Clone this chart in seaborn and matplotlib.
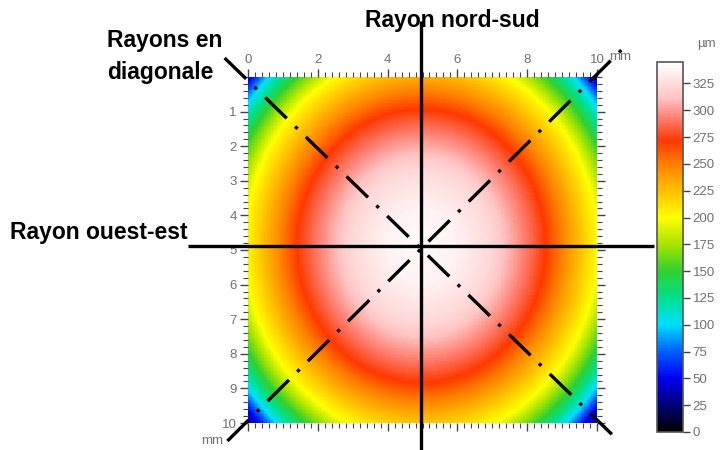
import numpy as np
import pandas as pd
import matplotlib
matplotlib.use("Agg")
import matplotlib.pyplot as plt
import seaborn as sns
from matplotlib.colors import LinearSegmentedColormap
from matplotlib.ticker import MultipleLocator, FixedLocator

# ---- data ----
# radial height profile of the dome (distance from centre in mm -> height in µm)
profile_radius_mm = [0.0, 1.0, 2.0, 2.5, 3.0, 3.55, 4.1, 4.6, 5.05, 5.67, 6.2, 6.55, 7.2]
profile_height_um = [342, 337, 322, 307, 291, 272, 246, 222, 200, 150, 100, 50, 20]
centre_mm = [4.97, 4.88]        # x, y of the dome top
y_stretch = 0.90                # the dome is a little wider north-south
field_mm = [0, 10]
cbar_ticks = [0, 25, 50, 75, 100, 125, 150, 175, 200, 225, 250, 275, 300, 325]
top_tick_labels = [0, 2, 4, 6, 8, 10]
left_tick_labels = [1, 2, 3, 4, 5, 6, 7, 8, 9, 10]
vmax_um = 345

# colour scale stops (value in µm, colour)
cmap_stops = [(0, "#000000"), (25, "#00007a"), (50, "#0000f0"), (75, "#0060ff"),
              (100, "#00e0ff"), (125, "#00e08c"), (150, "#30d030"), (175, "#a8e400"),
              (200, "#ffff00"), (225, "#ffc000"), (250, "#ff8000"), (272, "#ff3800"),
              (292, "#ff7a6a"), (312, "#ffc4c4"), (345, "#ffffff")]

# ---- build grid ----
N = 240
coords = (np.arange(N) + 0.5) * (field_mm[1] - field_mm[0]) / N
X, Y = np.meshgrid(coords, coords)
R = np.sqrt((X - centre_mm[0]) ** 2 + ((Y - centre_mm[1]) * y_stretch) ** 2)
Z = np.interp(R, profile_radius_mm, profile_height_um)
df = pd.DataFrame(Z)

cmap = LinearSegmentedColormap.from_list(
    "surf", [(v / vmax_um, c) for v, c in cmap_stops])

W, H = 723, 450
fig = plt.figure(figsize=(W / 100, H / 100), dpi=100)
ax = fig.add_axes([248 / W, 1 - 423 / H, (597 - 248) / W, (423 - 77) / H])
cax = fig.add_axes([657 / W, 1 - 432 / H, (683 - 657) / W, (432 - 62) / H])

sns.heatmap(df, ax=ax, cmap=cmap, vmin=0, vmax=vmax_um, cbar_ax=cax,
            xticklabels=False, yticklabels=False,
            cbar_kws={"ticks": cbar_ticks})
cbar = ax.collections[0].colorbar

label_color = "#707070"
label_size = 9.5
scale = N / (field_mm[1] - field_mm[0])
tick_kw = dict(colors="#444444", labelcolor=label_color, labelsize=label_size)
ax.xaxis.tick_top()
ax.xaxis.set_major_locator(FixedLocator([v * scale for v in top_tick_labels]))
ax.set_xticklabels([str(v) for v in top_tick_labels], fontfamily="Liberation Sans")
ax.xaxis.set_minor_locator(MultipleLocator(0.2 * scale))
ax.yaxis.set_major_locator(FixedLocator([v * scale for v in left_tick_labels]))
ax.set_yticklabels([str(v) for v in left_tick_labels], fontfamily="Liberation Sans")
ax.yaxis.set_minor_locator(MultipleLocator(0.2 * scale))
ax.tick_params(axis="both", which="major", length=6, width=1, direction="out",
               top=True, bottom=True, left=True, right=True, pad=2, **tick_kw)
ax.tick_params(axis="both", which="minor", length=3.5, width=0.8, direction="out",
               top=True, bottom=True, left=True, right=True, colors="#444444")
ax.tick_params(axis="x", labeltop=True, labelbottom=False)
ax.tick_params(axis="y", labelleft=True, labelright=False, rotation=0)
ax.set_xlabel("")
ax.set_ylabel("")
for s in ax.spines.values():
    s.set_visible(False)

cax.tick_params(length=5, width=1, colors="#444444", labelcolor=label_color,
                labelsize=label_size, pad=2)
for lab in cax.get_yticklabels():
    lab.set_fontfamily("Liberation Sans")
cbar.outline.set_edgecolor("#555555")
cbar.outline.set_linewidth(1.2)
fig.text(706 / W, 1 - 44 / H, "µm", ha="center", va="center", fontsize=label_size,
         color=label_color, family="Liberation Sans")

# "mm" unit labels
fig.text(620 / W, 1 - 57 / H, "mm", ha="center", va="center", fontsize=label_size,
         color=label_color, family="Liberation Sans")
fig.text(212 / W, 1 - 441 / H, "mm", ha="center", va="center", fontsize=label_size,
         color=label_color, family="Liberation Sans")

# ---- overlay radii (in mm, all through the dome centre) ----
def mm(dx, dy):
    return (centre_mm[0] + dx) * scale, (centre_mm[1] + dy) * scale

line_kw = dict(color="black", lw=2.4, clip_on=False, solid_capstyle="butt")
ax.plot(*zip(mm(0, -6.5), mm(0, 5.95)), **line_kw)
ax.plot(*zip(mm(-6.7, 0), mm(6.65, 0)), **line_kw)
dd_kw = dict(color="black", lw=2.4, clip_on=False,
             dashes=(9, 3.5, 1, 3.5), dash_capstyle="butt")
ax.plot(*zip(mm(-5.64, -5.43), mm(5.56, 5.55)), **dd_kw)
ax.plot(*zip(mm(-5.56, 5.64), mm(5.85, -5.78)), **dd_kw)

txt_kw = dict(fontsize=16.5, fontweight="bold", color="black",
              family="Liberation Sans")
fig.text(452 / W, 1 - 20 / H, "Rayon nord-sud", ha="center", va="center", **txt_kw)
fig.text(107 / W, 1 - 40 / H, "Rayons en", ha="left", va="center", **txt_kw)
fig.text(107 / W, 1 - 73 / H, "diagonale", ha="left", va="center", **txt_kw)
fig.text(10 / W, 1 - 232 / H, "Rayon ouest-est", ha="left", va="center", **txt_kw)

fig.savefig("out.png", dpi=100)
